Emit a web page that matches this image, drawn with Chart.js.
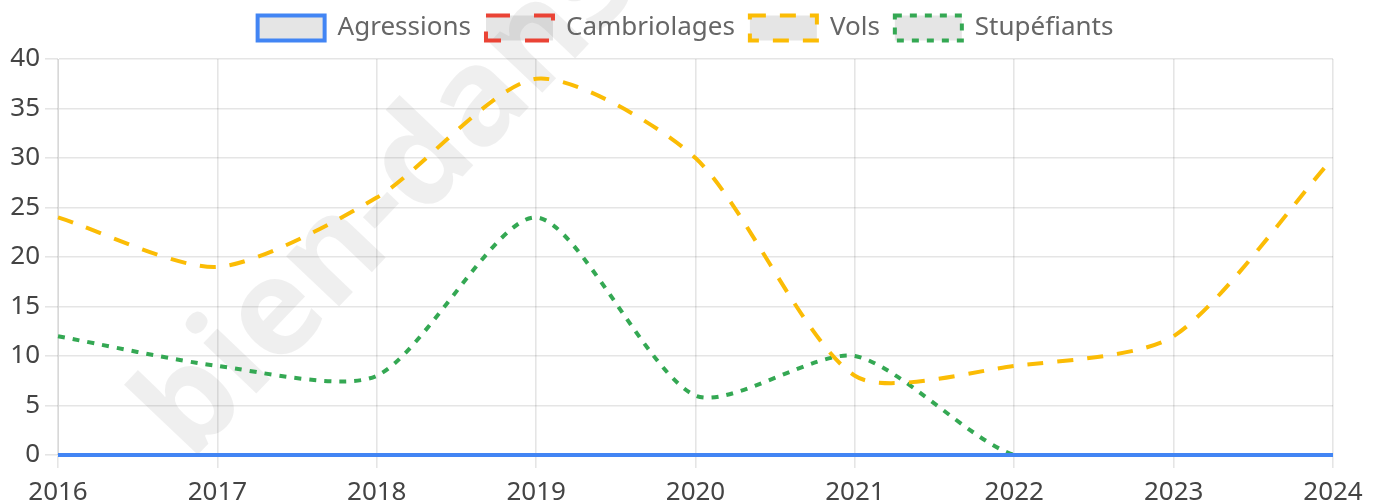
<!DOCTYPE html>
<html>
<head>
<meta charset="utf-8">
<script src="https://cdn.jsdelivr.net/npm/chart.js@4.4.0/dist/chart.umd.min.js"></script>
<style>
  html, body { margin: 0; padding: 0; background: #fff; }
  #wrap { width: 1381px; height: 504px; }
</style>
</head>
<body>
<div id="wrap"><canvas id="canvas"></canvas></div>
<script>
const years = ["2016", "2017", "2018", "2019", "2020", "2021", "2022", "2023", "2024"];
const agressions = [0, 0, 0, 0, 0, 0, 0, 0, 0];
const cambriolages = [0, 0, 0, 0, 0, 0, 0, 0, 0];
const vols = [24, 19, 26, 38, 30, 8, 9, 12, 30];
const stupefiants = [12, 9, 8, 24, 6, 10, 0, 0, 0];

// watermark behind the chart
const watermark = {
  id: "watermark",
  beforeDraw(chart) {
    const ctx = chart.ctx;
    ctx.save();
    ctx.translate(191, 462);
    ctx.rotate(-0.81);
    ctx.font = "bold 134px 'Noto Sans'";
    ctx.fillStyle = "rgba(0, 0, 0, 0.062)";
    ctx.textBaseline = "alphabetic";
    ctx.fillText("bien-dans-ma-ville.fr", 0, 0);
    ctx.restore();
  },
};

// a bit more room under the legend
const legendGap = {
  id: "legendGap",
  beforeInit(chart) {
    const origFit = chart.legend.fit;
    chart.legend.fit = function () {
      origFit.call(this);
      this.height += 8;
    };
  },
};

Chart.defaults.font.family = "'Noto Sans', sans-serif";

const graph_data = {
  labels: years,
  datasets: [
    {
      label: "Agressions",
      data: agressions,
      borderColor: "#4285F4",
      backgroundColor: "rgba(0, 0, 0, 0.1)",
      borderWidth: 4,
    },
    {
      label: "Cambriolages",
      data: cambriolages,
      borderColor: "#EA4335",
      backgroundColor: "rgba(0, 0, 0, 0.1)",
      borderWidth: 4,
      borderDash: [24, 24],
    },
    {
      label: "Vols",
      data: vols,
      borderColor: "#FBBC05",
      backgroundColor: "rgba(0, 0, 0, 0.1)",
      borderWidth: 4,
      borderDash: [16, 14],
    },
    {
      label: "Stupéfiants",
      data: stupefiants,
      borderColor: "#34A853",
      backgroundColor: "rgba(0, 0, 0, 0.1)",
      borderWidth: 4,
      borderDash: [7, 8],
    },
  ],
};

const config = {
  type: "line",
  data: graph_data,
  plugins: [watermark, legendGap],
  options: {
    responsive: true,
    maintainAspectRatio: false,
    animation: false,
    layout: { padding: { right: 10, left: 0, bottom: 0, top: 0 } },
    elements: {
      point: { radius: 0 },
      line: { tension: 0.25 },
    },
    datasets: { line: { clip: 8 } },
    plugins: {
      legend: {
        position: "top",
        labels: {
          boxWidth: 67,
          boxHeight: 25,
          color: "#666",
          font: { size: 26 },
          padding: 15,
        },
      },
      tooltip: { enabled: false },
    },
    scales: {
      x: {
        grid: { color: "rgba(0, 0, 0, 0.1)", lineWidth: 1.6, tickLength: 13 },
        ticks: { color: "#444", font: { size: 26, lineHeight: 1.4 }, maxRotation: 0, padding: 6 },
        afterFit(scale) {
          scale.height = 49;
        },
      },
      y: {
        min: 0,
        max: 40,
        grid: { color: "rgba(0, 0, 0, 0.1)", lineWidth: 1.6, tickLength: 13 },
        ticks: { stepSize: 5, color: "#444", font: { size: 26 }, padding: 5 },
        afterFit(scale) {
          scale.width = 58;
        },
      },
      // empty space on the right, like the original
      spacer: {
        position: "right",
        grid: { display: false, drawTicks: false },
        border: { display: false },
        ticks: { display: false },
        afterFit(scale) {
          scale.width = 38;
        },
      },
    },
  },
};

window.onload = function () {
  const ctx = document.getElementById("canvas").getContext("2d");
  new Chart(ctx, config);
};
</script>
</body>
</html>
